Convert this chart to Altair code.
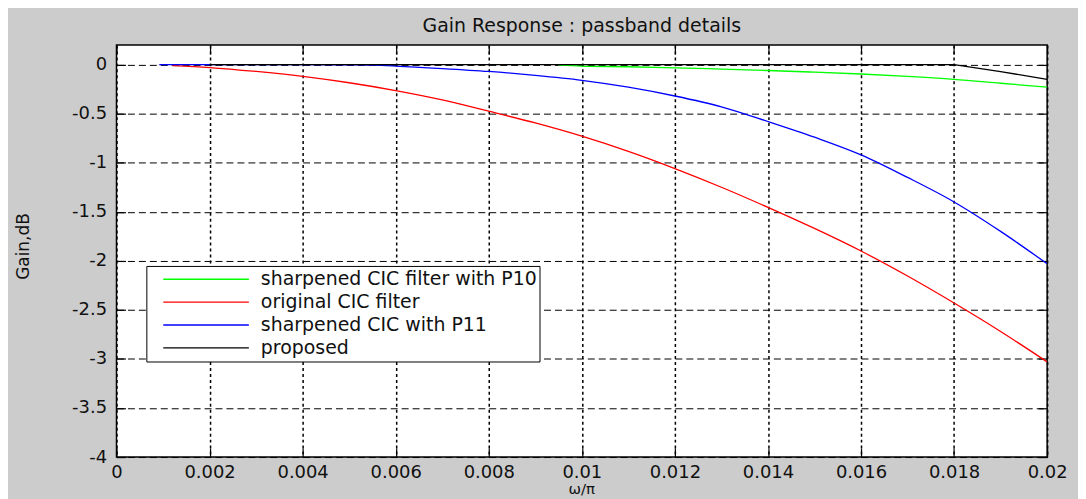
import altair as alt
import pandas as pd

FONT = "DejaVu Sans"

series_names = ["sharpened CIC filter with P10", "original CIC filter",
                "sharpened CIC with P11", "proposed"]
series_colors = ["#00ff00", "#ff0000", "#0000ff", "#000000"]

x_ticks = [0, 0.002, 0.004, 0.006, 0.008, 0.01, 0.012, 0.014, 0.016, 0.018, 0.02]
y_ticks = [0, -0.5, -1, -1.5, -2, -2.5, -3, -3.5, -4]

green_x = [0.0095, 0.010, 0.011, 0.012, 0.013, 0.014, 0.015, 0.016, 0.017, 0.018, 0.019, 0.020]
green_y = [-0.005, -0.015, -0.022, -0.033, -0.046, -0.06, -0.077, -0.096, -0.12, -0.15, -0.19, -0.23]

red_x = [0.0012, 0.002, 0.003, 0.004, 0.005, 0.006, 0.007, 0.008, 0.009, 0.010,
         0.011, 0.012, 0.013, 0.014, 0.015, 0.016, 0.017, 0.018, 0.019, 0.020]
red_y = [-0.01, -0.03, -0.07, -0.12, -0.185, -0.265, -0.36, -0.475, -0.595, -0.73,
         -0.885, -1.06, -1.25, -1.455, -1.67, -1.9, -2.155, -2.43, -2.72, -3.03]

blue_x = [0.00092, 0.002, 0.003, 0.004, 0.005, 0.0055, 0.006, 0.007, 0.008, 0.009, 0.010,
          0.011, 0.012, 0.013, 0.014, 0.015, 0.016, 0.017, 0.018, 0.019, 0.020]
blue_y = [0.0, 0.0, 0.0, 0.0, -0.003, -0.006, -0.015, -0.04, -0.07, -0.11, -0.16,
          -0.23, -0.32, -0.43, -0.58, -0.74, -0.92, -1.15, -1.40, -1.70, -2.03]

black_x = [0.002, 0.006, 0.010, 0.014, 0.018, 0.019, 0.020]
black_y = [0.0, 0.0, 0.0, 0.0, 0.0, -0.072, -0.15]

W, H = 935, 414


def frame(xs, ys, name):
    return pd.DataFrame({"w": xs, "gain": ys, "series": name})


x_scale = alt.Scale(domain=[0, 0.02], nice=False, zero=False)
y_scale = alt.Scale(domain=[-4, 0.2], nice=False, zero=False)
color_scale = alt.Scale(domain=series_names, range=series_colors)

legend = alt.Legend(
    orient="none", legendX=30, legendY=222, title=None,
    symbolType="stroke", symbolSize=7396, symbolStrokeWidth=1.3,
    clipHeight=22.7, rowPadding=0, padding=2,
    symbolOffset=14, labelOffset=11,
    labelFont=FONT, labelFontSize=19, labelColor="#111", labelLimit=800,
    strokeColor="#000", fillColor="#ffffff",
)

color = alt.Color("series:N", scale=color_scale, legend=legend)

label_x_axis = alt.Axis(
    values=x_ticks, orient="bottom", grid=True, gridDash=[3, 3], gridColor="#000",
    gridWidth=1.5, gridOpacity=1, ticks=False, tickSize=0, domain=False,
    labelPadding=7, labelFlush=False, labelOverlap=False, labelBound=False,
    labelExpr="toString(datum.value)", labelFont=FONT, labelFontSize=18,
    labelColor="#111", titleFont=FONT, titleFontSize=15, titleFontWeight="normal",
    titleColor="#111", titleX=467, titleY=32, titleBaseline="middle", titleAlign="center",
)
label_y_axis = alt.Axis(
    values=y_ticks, orient="left", grid=True, gridDash=[7, 4], gridColor="#000",
    gridWidth=1, gridOpacity=1, ticks=False, tickSize=0, domain=False,
    labelPadding=10, labelOverlap=False, labelFlush=False, labelBound=False,
    labelExpr="toString(datum.value)", labelFont=FONT, labelFontSize=18,
    labelColor="#111", titleFont=FONT, titleFontSize=17, titleFontWeight="normal",
    titleColor="#111", titleX=-93, titleY=202, titleBaseline="middle", titleAlign="center",
)


def tick_axis(values, orient, offset):
    return alt.Axis(values=values, orient=orient, offset=offset, labels=False, grid=False,
                    domain=False, ticks=True, tickSize=9, tickColor="#000", tickWidth=1.2)


line_kw = dict(strokeWidth=1.3, clip=True, interpolate="monotone")

layer_green = alt.Chart(frame(green_x, green_y, series_names[0])).mark_line(**line_kw).encode(
    x=alt.X("w:Q", scale=x_scale, axis=label_x_axis, title="ω/π"),
    y=alt.Y("gain:Q", scale=y_scale, axis=label_y_axis, title="Gain,dB"),
    color=color,
)
layer_red = alt.Chart(frame(red_x, red_y, series_names[1])).mark_line(**line_kw).encode(
    x=alt.X("w:Q", scale=x_scale, axis=tick_axis(x_ticks, "top", -H), title=None),
    y=alt.Y("gain:Q", scale=y_scale, axis=tick_axis(y_ticks, "right", -W), title=None),
    color=color,
)
layer_blue = alt.Chart(frame(blue_x, blue_y, series_names[2])).mark_line(**line_kw).encode(
    x=alt.X("w:Q", scale=x_scale, axis=tick_axis(x_ticks, "bottom", -H), title=None),
    y=alt.Y("gain:Q", scale=y_scale, axis=tick_axis(y_ticks, "left", -W), title=None),
    color=color,
)
layer_black = alt.Chart(frame(black_x, black_y, series_names[3])).mark_line(
    strokeWidth=1.3, clip=True).encode(
    x=alt.X("w:Q", scale=x_scale, axis=None),
    y=alt.Y("gain:Q", scale=y_scale, axis=None),
    color=color,
)

chart = alt.layer(layer_green, layer_red, layer_blue, layer_black).resolve_axis(
    x="independent", y="independent"
).properties(
    width=W, height=H,
    autosize=alt.AutoSizeParams(type="none"),
    padding={"left": 109, "top": 36, "right": 31, "bottom": 41},
    background="#cccccc",
    title=alt.TitleParams(text="Gain Response : passband details", font=FONT, fontSize=19,
                          fontWeight="normal", color="#111", offset=8, anchor="middle"),
).configure_view(fill="#ffffff", stroke="#000", strokeWidth=1.5)

chart.save("out.html", embed_options={"renderer": "svg", "actions": False})
